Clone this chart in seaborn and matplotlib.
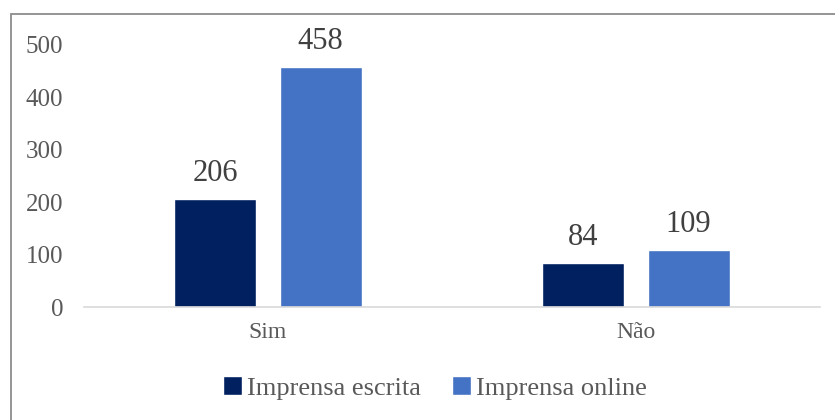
import pandas as pd
import matplotlib
matplotlib.use("Agg")
import matplotlib.pyplot as plt
import seaborn as sns
from matplotlib.patches import Rectangle

categories = ["Sim", "Não"]
series_names = ["Imprensa escrita", "Imprensa online"]
escrita = [206, 84]
online = [458, 109]
colors = ["#002060", "#4472C4"]

df = pd.DataFrame({
    "resposta": categories * 2,
    "tipo": [series_names[0]] * 2 + [series_names[1]] * 2,
    "valor": escrita + online,
})

sns.set_style("white")
plt.rcParams["font.family"] = ["Liberation Serif", "DejaVu Serif"]

fig = plt.figure(figsize=(8.35, 4.2), dpi=100)
ax = fig.add_axes([0.1006, 0.269, 0.8814, 0.624])

sns.barplot(data=df, x="resposta", y="valor", hue="tipo", palette=colors,
            width=0.572, gap=0.22, saturation=1, ax=ax, legend=True)

for cont in ax.containers:
    ax.bar_label(cont, fmt="%d", padding=8, fontsize=22, color="#404040")

ax.set_ylim(0, 500)
ax.set_xlim(-0.5, 1.5)
ax.set_yticks([0, 100, 200, 300, 400, 500])
ax.set_xlabel("")
ax.set_ylabel("")
ax.tick_params(axis="y", length=0, pad=15, labelsize=18, labelcolor="#595959")
ax.tick_params(axis="x", length=0, pad=11, labelsize=17, labelcolor="#595959")
for s in ["top", "right", "left"]:
    ax.spines[s].set_visible(False)
ax.spines["bottom"].set_color("#d9d9d9")
ax.spines["bottom"].set_linewidth(1.2)

handles, labels = ax.get_legend_handles_labels()
ax.legend(handles, labels, loc="center", bbox_to_anchor=(435 / 835, 1 - 388 / 420),
          bbox_transform=fig.transFigure, ncol=2, frameon=False, fontsize=19,
          labelcolor="#595959", handlelength=0.7, handleheight=0.7,
          handletextpad=0.2, columnspacing=1.2)

# chart border
fig.patches.append(Rectangle((11 / 835, -0.1), 1.2, 1.1 - 14 / 420, transform=fig.transFigure,
                             fill=False, edgecolor="#8c8c8c", linewidth=1.3))

fig.savefig("out.png", dpi=100)
